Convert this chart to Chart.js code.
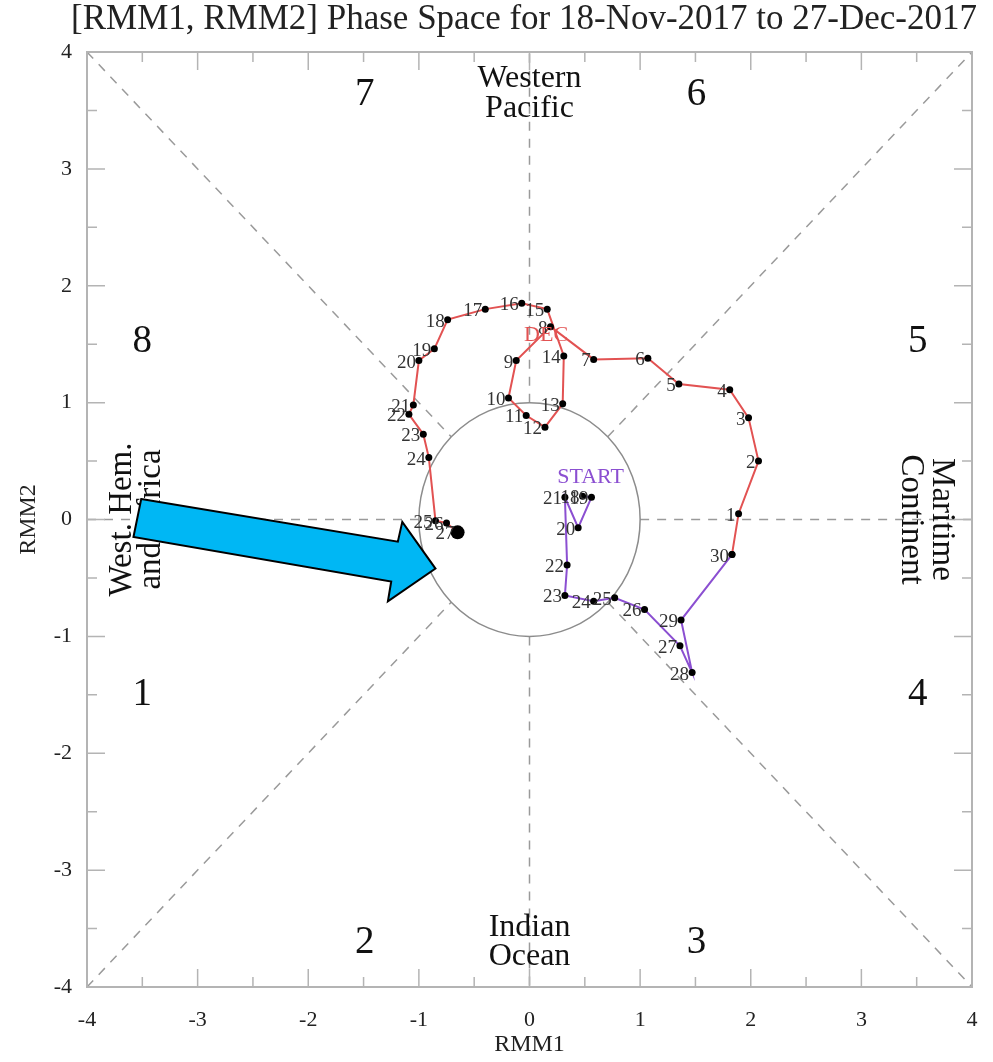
<!DOCTYPE html>
<html>
<head>
<meta charset="utf-8">
<script src="https://cdn.jsdelivr.net/npm/chart.js@4"></script>
<style>
  html, body { margin: 0; padding: 0; background: #fff; }
  #wrap { width: 993px; height: 1062px; }
</style>
</head>
<body>
<div id="wrap"><canvas id="rmm"></canvas></div>
<script>
// November track (starts 18-Nov)
const novDays = [18, 19, 20, 21, 22, 23, 24, 25, 26, 27, 28, 29, 30];
const novRmm1 = [0.48, 0.56, 0.44, 0.32, 0.34, 0.32, 0.58, 0.77, 1.04, 1.36, 1.47, 1.37, 1.83];
const novRmm2 = [0.20, 0.19, -0.07, 0.19, -0.39, -0.65, -0.70, -0.67, -0.77, -1.08, -1.31, -0.86, -0.30];

// December track (first point is 30-Nov, joins the two lines)
const decDays = [null, 1, 2, 3, 4, 5, 6, 7, 8, 9, 10, 11, 12, 13, 14, 15, 16, 17, 18, 19, 20, 21, 22, 23, 24, 25, 26, 27];
const decRmm1 = [1.83, 1.89, 2.07, 1.98, 1.81, 1.35, 1.07, 0.58, 0.19, -0.12, -0.19, -0.03, 0.14, 0.30, 0.31, 0.16, -0.07, -0.40, -0.74, -0.86, -1.00, -1.05, -1.09, -0.96, -0.91, -0.85, -0.75, -0.65];
const decRmm2 = [-0.30, 0.05, 0.50, 0.87, 1.11, 1.16, 1.38, 1.37, 1.65, 1.36, 1.04, 0.89, 0.79, 0.99, 1.40, 1.80, 1.85, 1.80, 1.71, 1.46, 1.36, 0.98, 0.90, 0.73, 0.53, -0.01, -0.03, -0.11];

const axisTicks = [-4, -3, -2, -1, 0, 1, 2, 3, 4];

// phase numbers and where they sit (data units)
const phaseNames = ['1', '2', '3', '4', '5', '6', '7', '8'];
const phaseX = [-3.5, -1.49, 1.51, 3.51, 3.51, 1.51, -1.49, -3.5];
const phaseY = [-1.5, -3.62, -3.62, -1.5, 1.52, 3.63, 3.63, 1.52];

// blue arrow pasted on top of the figure (data units)
const arrowX = [-3.51, -1.19, -1.15, -0.85, -1.28, -1.25, -3.58];
const arrowY = [0.175, -0.19, -0.02, -0.42, -0.70, -0.53, -0.15];

const SERIF = "'Liberation Serif', 'DejaVu Serif', serif";
const PURPLE = '#8b4fd1';
const RED = '#e25252';

const toPts = (xs, ys) => xs.map((x, i) => ({x: x, y: ys[i]}));

const backdrop = {
  id: 'backdrop',
  beforeDatasetsDraw(chart) {
    const {ctx, chartArea: a, scales: {x, y}} = chart;
    ctx.save();
    // dashed phase boundaries outside the unit circle
    ctx.strokeStyle = '#9a9a9a';
    ctx.lineWidth = 1.5;
    ctx.setLineDash([9, 8]);
    const r = Math.SQRT1_2;
    const segs = [
      [-4, -4, -r, -r], [r, r, 4, 4], [-4, 4, -r, r], [r, -r, 4, -4],
      [-4, 0, -1, 0], [1, 0, 4, 0], [0, 1, 0, 4], [0, -1, 0, -4]
    ];
    segs.forEach(s => {
      ctx.beginPath();
      ctx.moveTo(x.getPixelForValue(s[0]), y.getPixelForValue(s[1]));
      ctx.lineTo(x.getPixelForValue(s[2]), y.getPixelForValue(s[3]));
      ctx.stroke();
    });
    ctx.setLineDash([]);
    // unit circle
    const cx = x.getPixelForValue(0), cy = y.getPixelForValue(0);
    ctx.strokeStyle = '#8c8c8c';
    ctx.beginPath();
    ctx.ellipse(cx, cy, x.getPixelForValue(1) - cx, cy - y.getPixelForValue(1), 0, 0, Math.PI * 2);
    ctx.stroke();

    // frame and inward ticks
    ctx.strokeStyle = '#b4b4b4';
    ctx.lineWidth = 2;
    ctx.strokeRect(a.left, a.top, a.right - a.left, a.bottom - a.top);
    ctx.lineWidth = 1.5;
    for (let v = -3.5; v <= 3.5; v += 0.5) {
      const len = Number.isInteger(v) ? 18 : 10;
      const px = x.getPixelForValue(v), py = y.getPixelForValue(v);
      ctx.beginPath();
      ctx.moveTo(px, a.bottom); ctx.lineTo(px, a.bottom - len);
      ctx.moveTo(px, a.top); ctx.lineTo(px, a.top + len);
      ctx.moveTo(a.left, py); ctx.lineTo(a.left + len, py);
      ctx.moveTo(a.right, py); ctx.lineTo(a.right - len, py);
      ctx.stroke();
    }

    // phase numbers
    ctx.fillStyle = '#111';
    ctx.textAlign = 'center';
    ctx.textBaseline = 'middle';
    ctx.font = '39px ' + SERIF;
    phaseNames.forEach((p, i) => {
      ctx.fillText(p, x.getPixelForValue(phaseX[i]), y.getPixelForValue(phaseY[i]));
    });

    // region names
    ctx.font = '32px ' + SERIF;
    ctx.fillText('Western', cx, a.top + 27);
    ctx.fillText('Pacific', cx, a.top + 57);
    ctx.fillText('Indian', cx, a.bottom - 59);
    ctx.fillText('Ocean', cx, a.bottom - 30);

    ctx.font = '33px ' + SERIF;
    ctx.save();
    ctx.translate(a.right - 30, cy);
    ctx.rotate(Math.PI / 2);
    ctx.fillText('Maritime', 0, 0);
    ctx.fillText('Continent', 0, 31);
    ctx.restore();

    ctx.save();
    ctx.translate(a.left + 35, cy);
    ctx.rotate(-Math.PI / 2);
    ctx.fillText('West. Hem.', 0, 0);
    ctx.fillText('and Africa', 0, 29);
    ctx.restore();

    ctx.restore();
  },
  afterDraw(chart) {
    const {ctx, scales: {x, y}} = chart;
    ctx.save();
    // day labels, to the left of each dot
    ctx.font = '19px ' + SERIF;
    ctx.fillStyle = '#333';
    ctx.textAlign = 'right';
    ctx.textBaseline = 'middle';
    [novDays, decDays].forEach((days, di) => {
      const meta = chart.getDatasetMeta(di);
      days.forEach((d, i) => {
        if (d === null) return;
        const el = meta.data[i];
        ctx.fillText(String(d), el.x - 3, el.y + 2);
      });
    });

    // START / DEC markers
    const s0 = chart.getDatasetMeta(0).data[0];
    ctx.textAlign = 'center';
    ctx.font = '22px ' + SERIF;
    ctx.fillStyle = PURPLE;
    ctx.fillText('START', s0.x + 8, s0.y - 19);
    ctx.fillStyle = RED;
    ctx.fillText('DEC', x.getPixelForValue(0.15), y.getPixelForValue(1.58));

    // title
    ctx.fillStyle = '#222';
    ctx.font = '35px ' + SERIF;
    ctx.fillText('[RMM1, RMM2] Phase Space for 18-Nov-2017 to 27-Dec-2017', 524, 20);

    // big blue arrow
    ctx.beginPath();
    arrowX.forEach((ax, i) => {
      const px = x.getPixelForValue(ax), py = y.getPixelForValue(arrowY[i]);
      if (i === 0) ctx.moveTo(px, py); else ctx.lineTo(px, py);
    });
    ctx.closePath();
    ctx.fillStyle = '#00b7f4';
    ctx.fill();
    ctx.strokeStyle = '#000';
    ctx.lineWidth = 2;
    ctx.lineJoin = 'miter';
    ctx.stroke();
    ctx.restore();
  }
};

const tickFont = {family: SERIF, size: 22};

new Chart(document.getElementById('rmm'), {
  type: 'scatter',
  data: {
    datasets: [
      {
        label: 'Nov',
        data: toPts(novRmm1, novRmm2),
        showLine: true,
        borderColor: PURPLE,
        borderWidth: 2,
        pointRadius: 3.5,
        pointBackgroundColor: '#000',
        pointBorderColor: '#000',
        pointBorderWidth: 0
      },
      {
        label: 'Dec',
        data: toPts(decRmm1, decRmm2),
        showLine: true,
        borderColor: RED,
        borderWidth: 2,
        pointRadius: decDays.map((d, i) => i === decDays.length - 1 ? 7 : 3.5),
        pointBackgroundColor: '#000',
        pointBorderColor: '#000',
        pointBorderWidth: 0
      }
    ]
  },
  options: {
    responsive: true,
    maintainAspectRatio: false,
    animation: false,
    layout: {padding: {top: 52, right: 21, left: 0, bottom: 0}},
    plugins: {
      legend: {display: false},
      tooltip: {enabled: false}
    },
    scales: {
      x: {
        type: 'linear',
        min: -4, max: 4,
        afterBuildTicks: s => { s.ticks = axisTicks.map(v => ({value: v})); },
        afterFit: s => { s.height = 75; },
        grid: {display: false},
        border: {display: false},
        ticks: {font: tickFont, color: '#222', padding: 12, maxRotation: 0},
        title: {display: true, text: 'RMM1', font: {family: SERIF, size: 24}, color: '#222', padding: {top: 0, bottom: 3}}
      },
      y: {
        type: 'linear',
        min: -4, max: 4,
        afterBuildTicks: s => { s.ticks = axisTicks.map(v => ({value: v})); },
        afterFit: s => { s.width = 87; },
        grid: {display: false},
        border: {display: false},
        ticks: {font: tickFont, color: '#222', padding: 7},
        title: {display: true, text: 'RMM2', font: {family: SERIF, size: 24}, color: '#222', padding: {top: 14, bottom: 0}}
      }
    }
  },
  plugins: [backdrop]
});
</script>
</body>
</html>
